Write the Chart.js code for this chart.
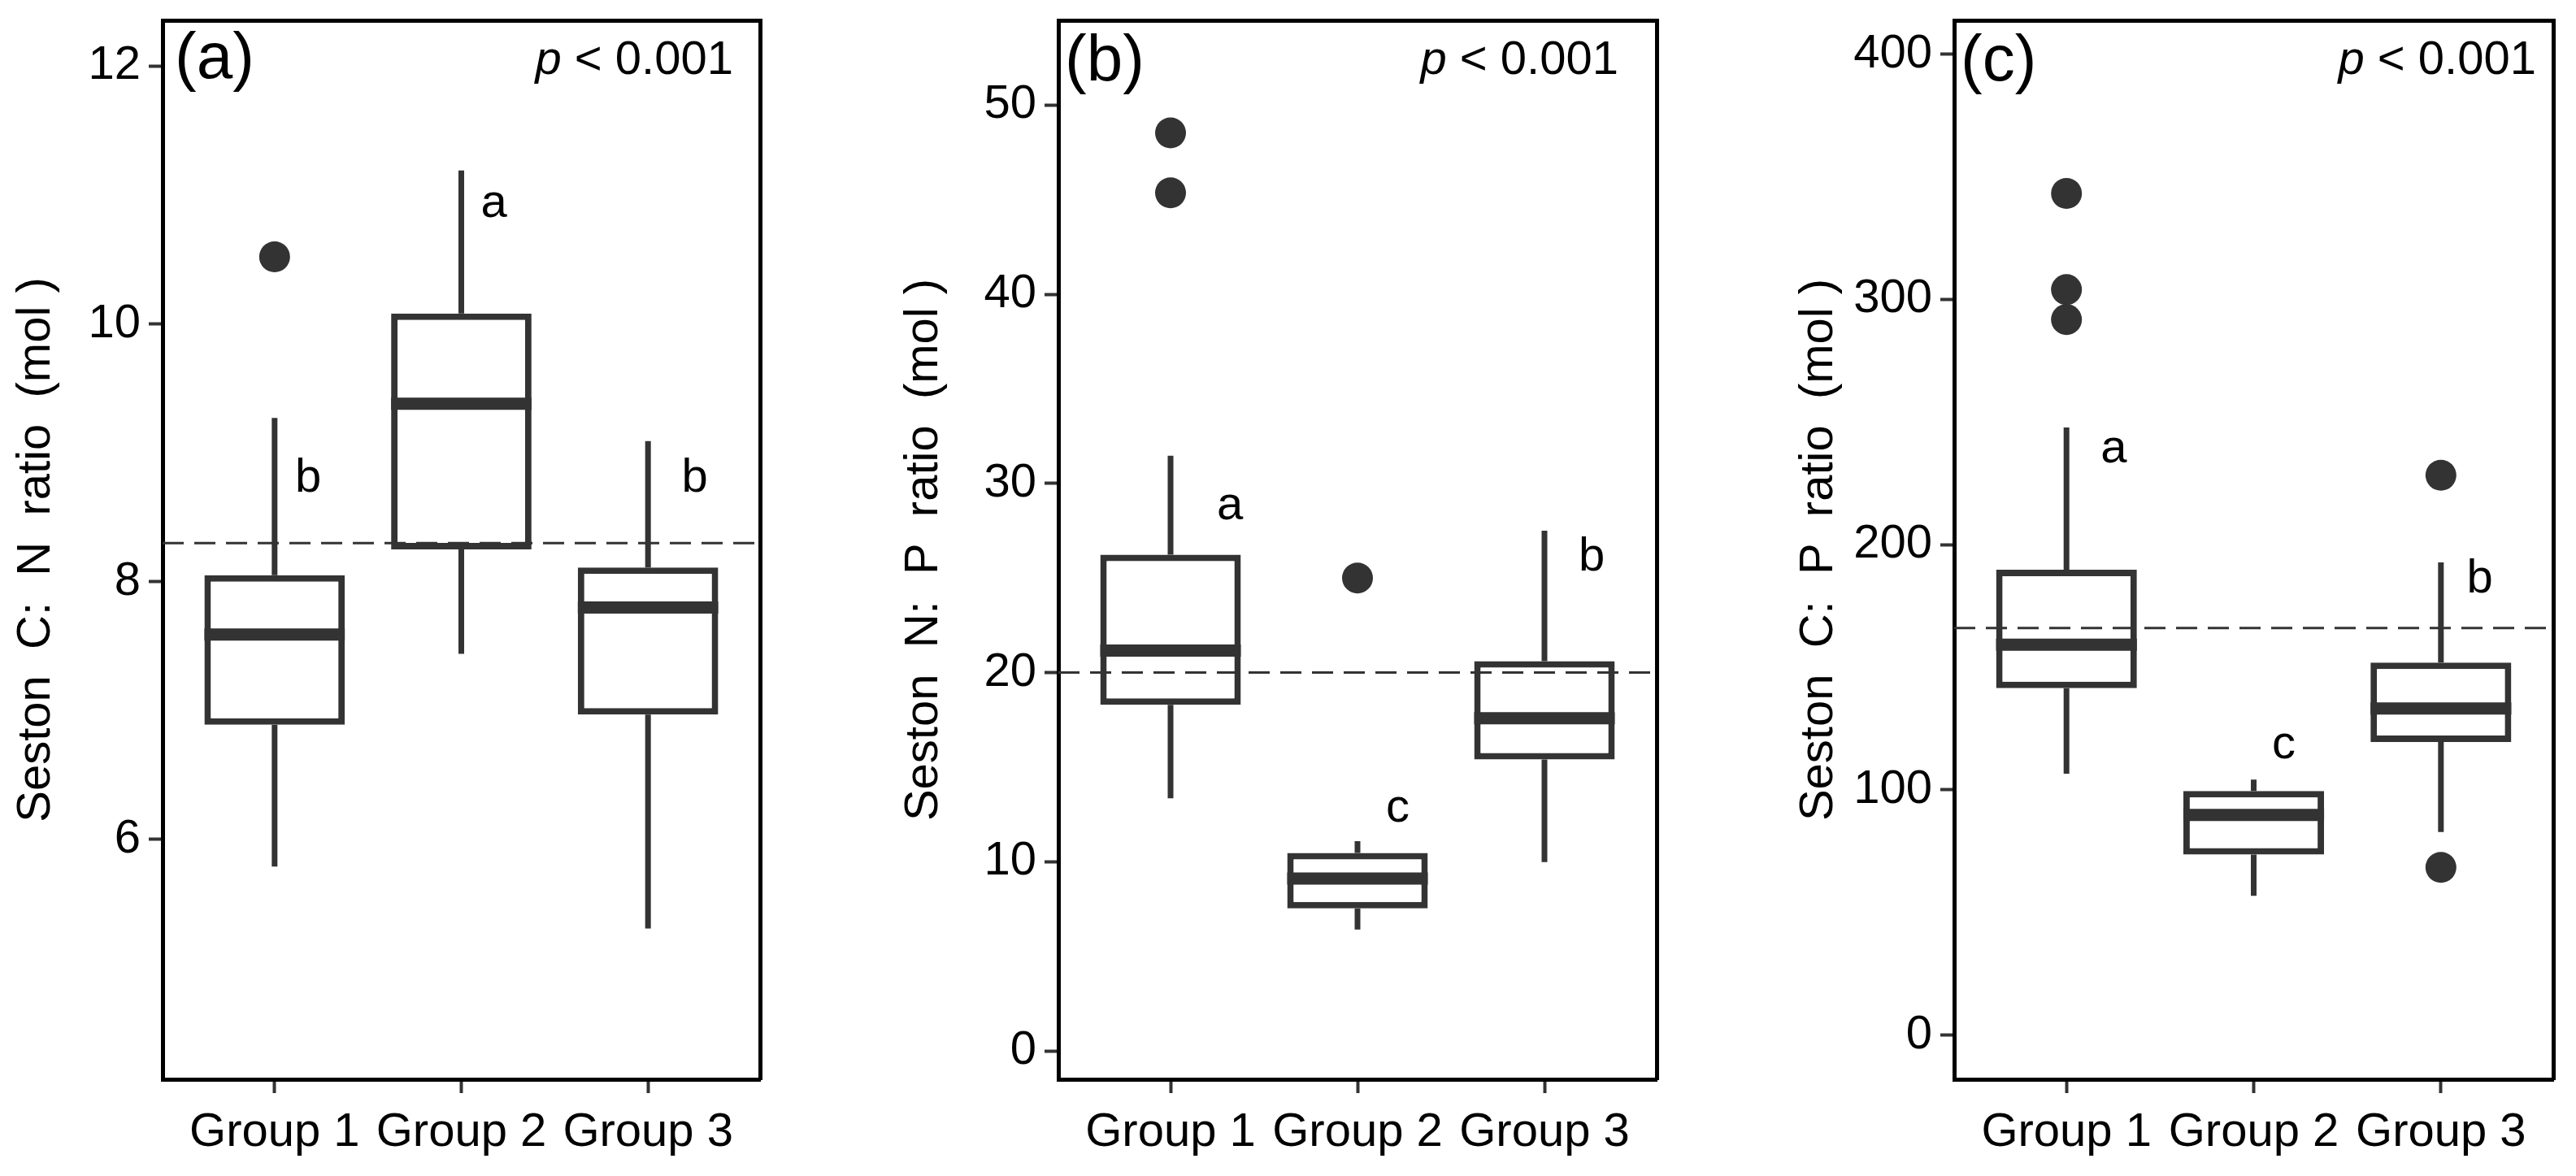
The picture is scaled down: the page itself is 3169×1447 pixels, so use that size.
<!DOCTYPE html>
<html>
<head>
<meta charset="utf-8">
<title>Seston stoichiometry by group</title>
<script src="https://cdn.jsdelivr.net/npm/chart.js@4.4.1/dist/chart.umd.min.js"></script>
<style>
  html, body { margin: 0; padding: 0; background: #fff; }
  #wrap { position: relative; width: 3169px; height: 1447px; }
  .panel { position: absolute; top: 0; height: 1447px; }
</style>
</head>
<body>
<div id="wrap">
  <div class="panel" style="left:0;width:1000px"><canvas id="cnChart"></canvas></div>
  <div class="panel" style="left:1000px;width:1100px"><canvas id="npChart"></canvas></div>
  <div class="panel" style="left:2100px;width:1069px"><canvas id="cpChart"></canvas></div>
</div>
<script>
const GROUPS = ["Group 1", "Group 2", "Group 3"];

// (a) seston C:N
const CN_MIN = [5.79, 7.44, 5.31];
const CN_Q1 = [6.89, 8.25, 6.97];
const CN_MEDIAN = [7.59, 9.38, 7.80];
const CN_Q3 = [8.05, 10.08, 8.11];
const CN_MAX = [9.27, 11.19, 9.09];
const CN_OUTLIERS = [[10.52], [], []];
const CN_REF = 8.3;
const CN_TICKS = [6, 8, 10, 12];
const CN_LETTERS = ["b", "a", "b"];
const CN_LETTER_Y = [8.70, 10.83, 8.70];

// (b) seston N:P
const NP_MIN = [13.35, 6.42, 9.98];
const NP_Q1 = [18.30, 7.53, 15.41];
const NP_MEDIAN = [21.16, 9.11, 17.59];
const NP_Q3 = [26.23, 10.46, 20.60];
const NP_MAX = [31.46, 11.09, 27.50];
const NP_OUTLIERS = [[48.53, 45.36], [25.0], []];
const NP_REF = 20;
const NP_TICKS = [0, 10, 20, 30, 40, 50];
const NP_LETTERS = ["a", "c", "b"];
const NP_LETTER_Y = [28.1, 12.1, 25.4];

// (c) seston C:P
const CP_MIN = [106.6, 56.8, 82.8];
const CP_Q1 = [141.5, 73.6, 119.5];
const CP_MEDIAN = [159.2, 89.8, 133.2];
const CP_Q3 = [189.8, 99.6, 151.9];
const CP_MAX = [247.8, 104.2, 192.8];
const CP_OUTLIERS = [[343.2, 304.0, 291.8], [], [228.3, 68.4]];
const CP_REF = 166;
const CP_TICKS = [0, 100, 200, 300, 400];
const CP_LETTERS = ["a", "c", "b"];
const CP_LETTER_Y = [233.5, 112.8, 180.6];

const FONT = "'Liberation Sans', Arial, sans-serif";
const INK = "#333333";
const BOX_WIDTH = 0.752;
const X_MIN = 0.4;
const X_MAX = 3.6;

// tag, p-value and group letters
const panelText = {
    id: "panelText",
    afterDatasetsDraw(chart, args, opts) {
        const { ctx, chartArea, scales } = chart;
        ctx.save();
        ctx.fillStyle = "#000";

        ctx.textAlign = "left";
        ctx.textBaseline = "middle";
        ctx.font = "80px " + FONT;
        ctx.fillText(opts.tag, chartArea.left + opts.tagInset, chartArea.top + opts.tagDrop);

        ctx.textAlign = "right";
        ctx.font = "58px " + FONT;
        const rest = " < 0.001";
        const xr = chartArea.right - opts.pInset;
        const yp = chartArea.top + 50;
        ctx.fillText(rest, xr, yp);
        const w = ctx.measureText(rest).width;
        ctx.font = "italic 58px " + FONT;
        ctx.fillText("p", xr - w, yp);

        ctx.textAlign = "center";
        ctx.textBaseline = "alphabetic";
        ctx.font = "58px " + FONT;
        opts.letters.forEach((t, i) => {
            ctx.fillText(t, scales.x.getPixelForValue(opts.letterX[i]), scales.y.getPixelForValue(opts.letterY[i]));
        });
        ctx.restore();
    }
};

function noPad(s) {
    s.paddingTop = 0;
    s.paddingBottom = 0;
    s.paddingLeft = 0;
    s.paddingRight = 0;
}

function makePanel(id, p) {
    const boxes = p.q1.map((v, i) => ({ x: i + 1, y: [p.q1[i], p.q3[i]] }));

    const whiskers = [];
    p.min.forEach((v, i) => {
        const x = i + 1;
        whiskers.push({ x, y: p.q3[i] }, { x, y: p.max[i] }, { x, y: null });
        whiskers.push({ x, y: p.q1[i] }, { x, y: p.min[i] }, { x, y: null });
    });

    const medians = [];
    p.median.forEach((v, i) => {
        const x = i + 1;
        medians.push({ x: x - BOX_WIDTH / 2, y: v }, { x: x + BOX_WIDTH / 2, y: v }, { x, y: null });
    });

    const outliers = [];
    p.outliers.forEach((list, i) => list.forEach((v) => outliers.push({ x: i + 1, y: v })));

    const ref = [{ x: X_MIN, y: p.ref }, { x: X_MAX, y: p.ref }];

    const lineBase = { type: "line", showLine: true, pointRadius: 0, fill: false, tension: 0, spanGaps: false };

    new Chart(document.getElementById(id), {
        type: "bar",
        data: {
            datasets: [
                { type: "bar", data: boxes, backgroundColor: "#fff", borderColor: INK, borderWidth: 8,
                  borderSkipped: false, barPercentage: BOX_WIDTH, categoryPercentage: 1, grouped: false, order: 3 },
                { ...lineBase, data: whiskers, borderColor: INK, borderWidth: 7, order: 4 },
                { ...lineBase, data: medians, borderColor: INK, borderWidth: 15, borderCapStyle: "butt", order: 2 },
                { type: "line", data: outliers, showLine: false, pointRadius: 19, pointBackgroundColor: INK,
                  pointBorderWidth: 0, order: 1 },
                { ...lineBase, data: ref, borderColor: INK, borderWidth: 3, borderDash: [26, 13], order: 0 }
            ]
        },
        options: {
            responsive: true,
            maintainAspectRatio: false,
            animation: false,
            events: [],
            layout: { padding: { top: 25, right: p.rightPad, bottom: 0, left: 0 } },
            plugins: {
                legend: { display: false },
                tooltip: { enabled: false },
                panelText: {
                    tag: p.tag, tagInset: p.tagInset, tagDrop: p.tagDrop, pInset: p.pInset,
                    letters: p.letters, letterX: p.letterX, letterY: p.letterY
                }
            },
            scales: {
                x: {
                    type: "linear", position: "bottom", min: X_MIN, max: X_MAX, offset: false,
                    afterBuildTicks: (s) => { s.ticks = GROUPS.map((g, i) => ({ value: i + 1 })); },
                    afterFit: (s) => { s.height = 119; noPad(s); },
                    ticks: { callback: (v) => GROUPS[v - 1], font: { family: FONT, size: 58 }, color: "#000",
                             padding: 14, maxRotation: 0, autoSkip: false },
                    grid: { display: true, drawOnChartArea: false, drawTicks: true, tickLength: 17,
                            tickWidth: 4, tickColor: INK, offset: false },
                    border: { display: true, color: "#000", width: 5 }
                },
                x2: {
                    type: "linear", position: "top", min: X_MIN, max: X_MAX,
                    afterFit: (s) => { s.height = 0; noPad(s); },
                    ticks: { display: false },
                    grid: { display: false, drawTicks: false },
                    border: { display: true, color: "#000", width: 5 }
                },
                y: {
                    type: "linear", position: "left", min: p.yMin, max: p.yMax,
                    afterBuildTicks: (s) => { s.ticks = p.ticks.map((v) => ({ value: v })); },
                    afterFit: (s) => { s.width = p.yWidth; noPad(s); },
                    ticks: { callback: (v) => String(v), font: { family: FONT, size: 58 }, color: "#000", padding: 10 },
                    grid: { display: true, drawOnChartArea: false, drawTicks: true, tickLength: 17,
                            tickWidth: 4, tickColor: INK },
                    border: { display: true, color: "#000", width: 5 },
                    title: { display: true, text: p.title, font: { family: FONT, size: 58 }, color: "#000",
                             padding: { top: p.titlePad, bottom: 0 } }
                },
                y2: {
                    type: "linear", position: "right", min: p.yMin, max: p.yMax,
                    afterFit: (s) => { s.width = 0; noPad(s); },
                    ticks: { display: false },
                    grid: { display: false, drawTicks: false },
                    border: { display: true, color: "#000", width: 5 }
                }
            }
        },
        plugins: [panelText]
    });
}

document.addEventListener("DOMContentLoaded", () => {
    makePanel("cnChart", {
        min: CN_MIN, q1: CN_Q1, median: CN_MEDIAN, q3: CN_Q3, max: CN_MAX, outliers: CN_OUTLIERS,
        ref: CN_REF, ticks: CN_TICKS, yMin: 4.14, yMax: 12.355,
        title: "Seston  C:  N  ratio  (mol )", titlePad: 10, yWidth: 200, rightPad: 65,
        tag: "(a)", tagInset: 15, tagDrop: 49, pInset: 33,
        letters: CN_LETTERS, letterX: [1.18, 2.175, 3.25], letterY: CN_LETTER_Y
    });
    makePanel("npChart", {
        min: NP_MIN, q1: NP_Q1, median: NP_MEDIAN, q3: NP_Q3, max: NP_MAX, outliers: NP_OUTLIERS,
        ref: NP_REF, ticks: NP_TICKS, yMin: -1.5, yMax: 54.48,
        title: "Seston  N:  P  ratio  (mol )", titlePad: 102, yWidth: 302, rightPad: 62,
        tag: "(b)", tagInset: 8, tagDrop: 52, pInset: 47,
        letters: NP_LETTERS, letterX: [1.318, 2.215, 3.253], letterY: NP_LETTER_Y
    });
    makePanel("cpChart", {
        min: CP_MIN, q1: CP_Q1, median: CP_MEDIAN, q3: CP_Q3, max: CP_MAX, outliers: CP_OUTLIERS,
        ref: CP_REF, ticks: CP_TICKS, yMin: -18, yMax: 413.8,
        title: "Seston  C:  P  ratio  (mol )", titlePad: 103, yWidth: 304, rightPad: 28,
        tag: "(c)", tagInset: 8, tagDrop: 52, pInset: 21,
        letters: CP_LETTERS, letterX: [1.253, 2.161, 3.208], letterY: CP_LETTER_Y
    });
});
</script>
</body>
</html>
